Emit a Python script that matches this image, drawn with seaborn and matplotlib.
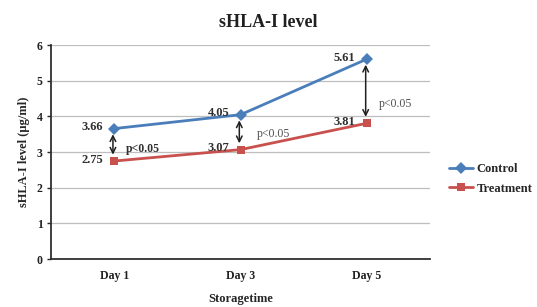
import numpy as np
import pandas as pd
import seaborn as sns
import matplotlib.pyplot as plt

# data
days = ["Day 1", "Day 3", "Day 5"]
control = [3.66, 4.05, 5.61]
treatment = [2.75, 3.07, 3.81]
p_labels = ["p<0.05", "p<0.05", "p<0.05"]

sns.set_style("white")
plt.rcParams['font.family'] = ['Liberation Serif', 'DejaVu Serif']

df = pd.DataFrame({
    "pos": list(range(len(days))) * 2,
    "value": control + treatment,
    "group": ["Control"] * 3 + ["Treatment"] * 3,
})

fig = plt.figure(figsize=(5.37, 3.07), dpi=100)
ax = fig.add_axes([0.095, 0.156, 0.706, 0.697])

sns.lineplot(data=df, x="pos", y="value", hue="group", style="group",
             palette={"Control": "#4A7EBB", "Treatment": "#C8504D"},
             markers={"Control": "D", "Treatment": "s"}, dashes=False,
             markersize=6, markeredgewidth=0, linewidth=2, ax=ax)

ax.set_xlim(-0.5, 2.5)
ax.set_ylim(0, 6)
ax.set_yticks(range(7))
ax.set_xticks(range(3))
ax.set_xticklabels(days)
ax.set_xticks([-0.5, 0.5, 1.5, 2.5], minor=True)
ax.tick_params(axis="x", which="major", length=0, pad=8)
ax.tick_params(axis="x", which="minor", length=3, direction="out", width=1)
ax.tick_params(axis="y", length=3, direction="out", left=True, width=1, pad=3)
for lab in ax.get_xticklabels() + ax.get_yticklabels():
    lab.set_fontweight("bold")
    lab.set_fontsize(8.5)
    lab.set_color("#202020")
ax.yaxis.grid(True, color="#BEBEBE", linewidth=0.9)
sns.despine(ax=ax)
for s in ["left", "bottom"]:
    ax.spines[s].set_color("#303030")
    ax.spines[s].set_linewidth(1.3)

ax.set_xlabel("Storagetime", fontsize=9, fontweight="bold", labelpad=8)
ax.set_ylabel("sHLA-I level (\u03bcg/ml)", fontsize=9, fontweight="bold", labelpad=5)
# title is centred over the whole chart, not the plot area
fig.text(0.5, 0.928, "sHLA-I level", fontsize=13, fontweight="bold",
         ha="center", va="center", color="#202020")

# value labels
for i in range(3):
    ax.annotate(f"{control[i]:.2f}", (i, control[i]), xytext=(-16, 1),
                textcoords="offset points", ha="center", va="center",
                fontsize=9, fontweight="bold", color="#303030")
    ax.annotate(f"{treatment[i]:.2f}", (i, treatment[i]), xytext=(-16, 1),
                textcoords="offset points", ha="center", va="center",
                fontsize=9, fontweight="bold", color="#303030")
    ax.annotate("", xy=(i - 0.01, control[i] - 0.08), xytext=(i - 0.01, treatment[i] + 0.1),
                arrowprops=dict(arrowstyle="<->", color="#202020", lw=1.1))

# p-value texts
ax.text(0.09, 3.1, p_labels[0], fontsize=8.5, fontweight="bold", color="#303030", va="center")
ax.text(1.13, 3.52, p_labels[1], fontsize=8.5, color="#505050", va="center")
ax.text(2.09, 4.35, p_labels[2], fontsize=8.5, color="#505050", va="center")

ax.legend(title=None, frameon=False, loc="upper left", bbox_to_anchor=(1.02, 0.5),
          prop={"weight": "bold", "size": 9}, handlelength=1.9, handletextpad=0.3,
          labelspacing=0.6)

fig.savefig("out.png", dpi=100)
